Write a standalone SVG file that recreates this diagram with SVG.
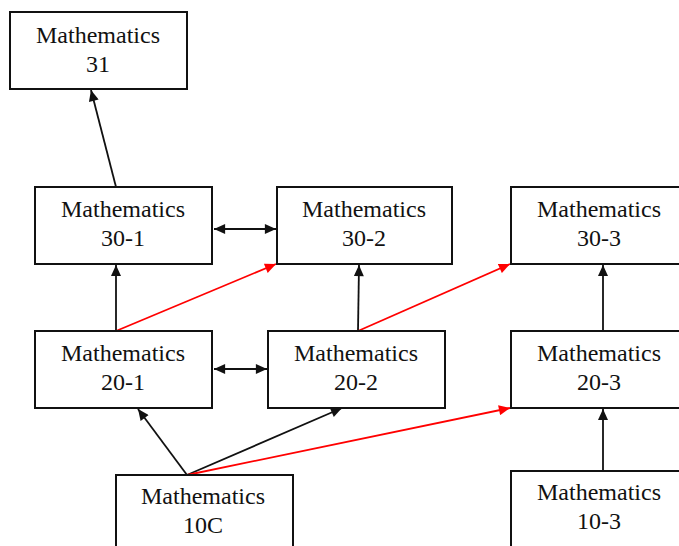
<svg xmlns="http://www.w3.org/2000/svg" width="679" height="546" viewBox="0 0 679 546">
<defs>
<style>
.box{fill:#fff;stroke:#111;stroke-width:2}
.t{font-family:"Liberation Serif","Times New Roman",serif;font-size:24px;fill:#111;text-anchor:middle}
.k{stroke:#111;stroke-width:1.8;fill:none}
.r{stroke:#ff0000;stroke-width:1.8;fill:none}
</style>
<marker id="ak" viewBox="0 0 10 9" refX="10" refY="4.5" markerWidth="12" markerHeight="10" markerUnits="userSpaceOnUse" orient="auto-start-reverse"><path d="M0,0 L10,4.5 L0,9 z" fill="#111"/></marker>
<marker id="ar" viewBox="0 0 10 9" refX="10" refY="4.5" markerWidth="12" markerHeight="10" markerUnits="userSpaceOnUse" orient="auto-start-reverse"><path d="M0,0 L10,4.5 L0,9 z" fill="#ff0000"/></marker>
</defs>
<rect width="679" height="546" fill="#fff"/>
<g id="connectors">
<line class="k" x1="116" y1="187" x2="91" y2="90" marker-end="url(#ak)"/>
<line class="k" x1="214" y1="229" x2="276" y2="229" marker-start="url(#ak)" marker-end="url(#ak)"/>
<line class="k" x1="116" y1="331" x2="116" y2="265" marker-end="url(#ak)"/>
<line class="r" x1="116" y1="331" x2="276" y2="264" marker-end="url(#ar)"/>
<line class="k" x1="358" y1="331" x2="359" y2="265" marker-end="url(#ak)"/>
<line class="r" x1="358" y1="331" x2="510" y2="264" marker-end="url(#ar)"/>
<line class="k" x1="214" y1="369" x2="267" y2="369" marker-start="url(#ak)" marker-end="url(#ak)"/>
<line class="k" x1="603" y1="331" x2="603" y2="265" marker-end="url(#ak)"/>
<line class="k" x1="603" y1="471" x2="603" y2="409" marker-end="url(#ak)"/>
<line class="k" x1="187" y1="475" x2="138" y2="409" marker-end="url(#ak)"/>
<line class="k" x1="187" y1="475" x2="342" y2="408" marker-end="url(#ak)"/>
<line class="r" x1="187" y1="475" x2="510" y2="408" marker-end="url(#ar)"/>
</g>
<g id="math31"><rect class="box" x="10" y="12" width="177" height="77"/><text class="t" x="98" y="43">Mathematics</text><text class="t" x="98" y="72">31</text></g>
<g id="math30-1"><rect class="box" x="35" y="187" width="177" height="77"/><text class="t" x="123" y="217">Mathematics</text><text class="t" x="123" y="246">30-1</text></g>
<g id="math30-2"><rect class="box" x="277" y="187" width="175" height="77"/><text class="t" x="364" y="217">Mathematics</text><text class="t" x="364" y="246">30-2</text></g>
<g id="math30-3"><rect class="box" x="511" y="187" width="176" height="77"/><text class="t" x="599" y="217">Mathematics</text><text class="t" x="599" y="246">30-3</text></g>
<g id="math20-1"><rect class="box" x="35" y="331" width="177" height="77"/><text class="t" x="123" y="361">Mathematics</text><text class="t" x="123" y="390">20-1</text></g>
<g id="math20-2"><rect class="box" x="268" y="331" width="177" height="77"/><text class="t" x="356" y="361">Mathematics</text><text class="t" x="356" y="390">20-2</text></g>
<g id="math20-3"><rect class="box" x="511" y="331" width="176" height="77"/><text class="t" x="599" y="361">Mathematics</text><text class="t" x="599" y="390">20-3</text></g>
<g id="math10C"><rect class="box" x="116" y="475" width="177" height="80"/><text class="t" x="203" y="504">Mathematics</text><text class="t" x="203" y="533">10C</text></g>
<g id="math10-3"><rect class="box" x="511" y="471" width="176" height="84"/><text class="t" x="599" y="500">Mathematics</text><text class="t" x="599" y="529">10-3</text></g>
</svg>
